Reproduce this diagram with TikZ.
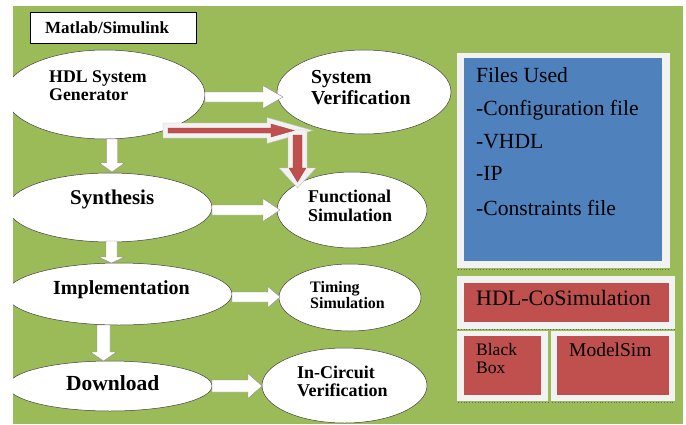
\documentclass[tikz,border=0pt]{standalone}
\usepackage{fontspec}
\setmainfont{LiberationSerif}[Extension=.ttf, UprightFont=*-Regular, BoldFont=*-Bold, ItalicFont=*-Italic, BoldItalicFont=*-BoldItalic]
\usetikzlibrary{shapes.geometric}
\definecolor{bggreen}{HTML}{9BBB59}
\definecolor{boxblue}{HTML}{4F81BD}
\definecolor{boxred}{HTML}{C0504D}
\definecolor{framegray}{HTML}{F2F2F2}
\newcommand{\blockH}[7]{%
  \filldraw[#7] (#1,#3-#4) -- (#6,#3-#4) -- (#6,#3-#5) -- (#2,#3) -- (#6,#3+#5) -- (#6,#3+#4) -- (#1,#3+#4) -- cycle;}
\newcommand{\blockV}[7]{%
  \filldraw[#7] (#3-#4,#1) -- (#3-#4,#6) -- (#3-#5,#6) -- (#3,#2) -- (#3+#5,#6) -- (#3+#4,#6) -- (#3+#4,#1) -- cycle;}
\newcommand{\fs}[1]{\fontsize{#1}{#1}\selectfont}
\tikzset{
  oval/.style={ellipse, draw=black!75, line width=0.5pt, fill=white, inner sep=0pt},
  lbl/.style={inner sep=0pt, anchor=base west, font=\bfseries},
  rlbl/.style={inner sep=0pt, anchor=base west},
  warrow/.style={fill=white, draw=black!45, line width=0.4pt},
  rarrowout/.style={fill=framegray, draw=black!25, line width=0.4pt},
  rarrowin/.style={fill=boxred, draw=boxred!80!black, line width=0.3pt},
}
\begin{document}
\begin{tikzpicture}[x=1pt,y=-1pt]
\useasboundingbox (0,0) rectangle (686,424);
\fill[white] (0,0) rectangle (686,424);
\fill[bggreen] (13,6) rectangle (683,424);

% Matlab box
\node[draw=black, line width=0.8pt, fill=white, minimum width=166pt, minimum height=31pt, inner sep=0pt] (mbox) at (113,27.5) {};
\node[lbl] (mlbl) at (45,33) {\fs{17}Matlab/Simulink};

\begin{scope}
\clip (13,6) rectangle (683,424);
\node[oval, minimum width=200pt, minimum height=89pt] (hdl) at (105,94.5) {};
\node[oval, minimum width=174pt, minimum height=84pt] (sysver) at (364,92) {};
\node[oval, minimum width=204pt, minimum height=69pt] (syn) at (110,207.5) {};
\node[oval, minimum width=150pt, minimum height=76pt] (func) at (352,210) {};
\node[oval, minimum width=226pt, minimum height=62pt] (impl) at (119,294) {};
\node[oval, minimum width=142pt, minimum height=67pt] (timing) at (350,297.5) {};
\node[oval, minimum width=204pt, minimum height=50pt] (dl) at (110,386) {};
\node[oval, minimum width=165pt, minimum height=75pt] (ic) at (344.5,385.5) {};
\end{scope}

% labels
\node[lbl] (t1) at (49,82) {\fs{17.8}HDL System};
\node[lbl] (t2) at (49,100) {\fs{17.8}Generator};
\node[lbl] (t3) at (311,83) {\fs{19.8}System};
\node[lbl] (t4) at (311,104) {\fs{19.8}Verification};
\node[lbl] (t5) at (70,204) {\fs{21}Synthesis};
\node[lbl] (t6) at (308,202) {\fs{18}Functional};
\node[lbl] (t7) at (308,221) {\fs{18}Simulation};
\node[lbl] (t8) at (53,294) {\fs{20}Implementation};
\node[lbl] (t9) at (310,292) {\fs{16}Timing};
\node[lbl] (t10) at (310,308) {\fs{16}Simulation};
\node[lbl] (t11) at (66,390) {\fs{21.5}Download};
\node[lbl] (t12) at (297,378) {\fs{18}In-Circuit};
\node[lbl] (t13) at (297,396) {\fs{18}Verification};

% white block arrows
\blockH{205}{283}{97}{5}{11.5}{263}{warrow}
\blockH{212}{280}{210}{5}{11.5}{263}{warrow}
\blockH{232}{280}{297}{5}{10.5}{268}{warrow}
\blockH{212}{262}{386}{6}{12.5}{248}{warrow}
\blockV{139}{172}{112}{5.5}{12.5}{163}{warrow}
\blockV{241}{263}{111.5}{5.5}{13}{257}{warrow}
\blockV{325}{361}{103.5}{6.5}{13}{352}{warrow}

% red arrows
\blockH{163}{313}{130.5}{7.5}{13}{267}{rarrowout}
\blockV{130}{188}{297.5}{9.5}{18.5}{168}{rarrowout}
\blockH{168}{294}{130.5}{2.5}{6.5}{271}{rarrowin}
\blockV{135}{182}{297.5}{4.5}{8.5}{168}{rarrowin}

% right panel
\fill[framegray] (457,53) rectangle (670,268);
\draw[black!60, dotted, line width=0.8pt] (458,269.5) -- (670,269.5);
\fill[boxblue] (464,58) rectangle (662,261);
\node[rlbl] (f1) at (476,82) {\fs{21.6}Files Used};
\node[rlbl] (f2) at (476,115) {\fs{21.6}-Configuration file};
\node[rlbl] (f3) at (476,148) {\fs{21.6}-VHDL};
\node[rlbl] (f4) at (476,180) {\fs{21.6}-IP};
\node[rlbl] (f5) at (476,215) {\fs{21.6}-Constraints file};

\fill[framegray] (457,276) rectangle (675,329);
\fill[boxred] (464,283) rectangle (669,322);
\draw[black!60, dotted, line width=0.8pt] (458,329.5) -- (675,329.5);
\node[rlbl] (c1) at (476,305) {\fs{22}HDL-CoSimulation};

\fill[framegray] (457,331) rectangle (548,401);
\fill[boxred] (464,336) rectangle (541,395);
\draw[black!60, dotted, line width=0.8pt] (458,402) -- (548,402);
\node[rlbl] (b1) at (476,355) {\fs{17.5}Black};
\node[rlbl] (b2) at (476,373) {\fs{17.5}Box};

\fill[framegray] (551,331) rectangle (675,401);
\fill[boxred] (557,336) rectangle (669,395);
\draw[black!60, dotted, line width=0.8pt] (552,402) -- (675,402);
\node[rlbl] (m1) at (569,356) {\fs{19.5}ModelSim};
\end{tikzpicture}
\end{document}
